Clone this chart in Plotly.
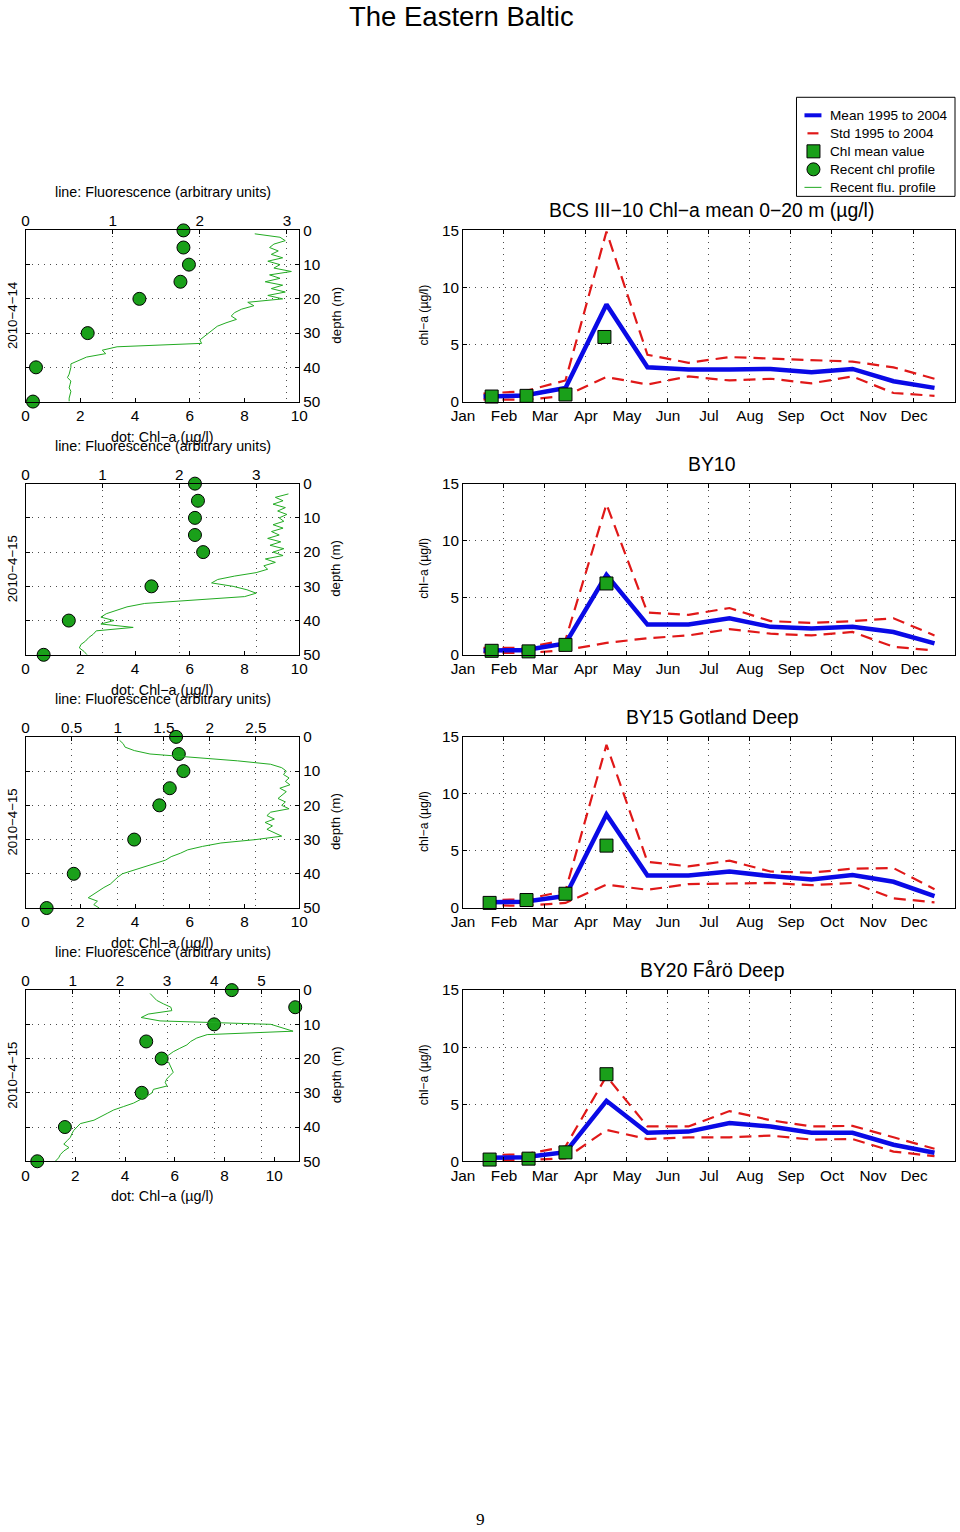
import plotly.graph_objects as go

FONT = "Liberation Sans, Arial, Helvetica, sans-serif"
W, H = 964, 1534
# measured mapping of the photographed page: shown = S * figure_px + O
SX, OX = 0.9796, 11.4
SY, OY = 0.988, 9.8
FK = 1.02  # font compensation for the same shrink

# ---------------- data: seasonal panels ----------------
months = ["Jan", "Feb", "Mar", "Apr", "May", "Jun", "Jul", "Aug", "Sep", "Oct", "Nov", "Dec"]
month_ticks = [1, 2, 3, 4, 5, 6, 7, 8, 9, 10, 11, 12]
month_mid = [1.5, 2.5, 3.5, 4.5, 5.5, 6.5, 7.5, 8.5, 9.5, 10.5, 11.5, 12.5]

station_titles = ["BCS III−10 Chl−a mean 0−20 m (µg/l)", "BY10", "BY15 Gotland Deep", "BY20 Fårö Deep"]

mean_bcs = [0.44, 0.53, 1.2, 8.5, 3.0, 2.8, 2.8, 2.86, 2.57, 2.86, 1.78, 1.2]
std_hi_bcs = [0.7, 0.9, 1.85, 14.9, 4.1, 3.4, 3.9, 3.75, 3.6, 3.5, 3.0, 2.0]
std_lo_bcs = [0.2, 0.15, 0.5, 2.15, 1.5, 2.2, 1.85, 2.0, 1.6, 2.2, 0.75, 0.5]
chl_t_bcs = [1.7, 2.55, 3.5, 4.45]
chl_v_bcs = [0.44, 0.5, 0.62, 5.66]

mean_by10 = [0.38, 0.4, 1.0, 7.0, 2.65, 2.65, 3.2, 2.45, 2.3, 2.45, 2.0, 1.0]
std_hi_by10 = [0.6, 0.6, 1.3, 13.2, 3.7, 3.5, 4.1, 2.95, 2.8, 2.95, 3.2, 1.7]
std_lo_by10 = [0.2, 0.15, 0.4, 1.05, 1.45, 1.7, 2.25, 1.85, 1.7, 2.0, 0.7, 0.38]
chl_t_by10 = [1.7, 2.6, 3.5, 4.5]
chl_v_by10 = [0.35, 0.3, 0.87, 6.25]

mean_by15 = [0.5, 0.55, 1.05, 8.2, 2.85, 2.85, 3.2, 2.8, 2.5, 2.9, 2.3, 1.05]
std_hi_by15 = [0.7, 0.75, 1.5, 14.3, 4.05, 3.65, 4.15, 3.2, 3.1, 3.45, 3.5, 1.65]
std_lo_by15 = [0.25, 0.2, 0.45, 2.05, 1.6, 2.1, 2.15, 2.2, 2.0, 2.2, 0.85, 0.5]
chl_t_by15 = [1.65, 2.55, 3.5, 4.5]
chl_v_by15 = [0.45, 0.7, 1.25, 5.47]

mean_by20 = [0.3, 0.35, 0.8, 5.3, 2.5, 2.6, 3.35, 3.05, 2.5, 2.5, 1.45, 0.75]
std_hi_by20 = [0.55, 0.6, 1.3, 7.45, 3.05, 3.05, 4.4, 3.6, 3.05, 3.1, 2.1, 1.1]
std_lo_by20 = [0.1, 0.1, 0.25, 2.75, 1.95, 2.1, 2.1, 2.25, 1.9, 1.95, 0.85, 0.45]
chl_t_by20 = [1.65, 2.6, 3.5, 4.5]
chl_v_by20 = [0.15, 0.23, 0.78, 7.63]

# ---------------- data: profiles ----------------
profile_dates = ["2010−4−14", "2010−4−15", "2010−4−15", "2010−4−15"]
dot_depth = [0, 5, 10, 15, 20, 30, 40, 50]
chl_p1 = [5.77, 5.77, 5.97, 5.66, 4.16, 2.27, 0.38, 0.27]
chl_p2 = [6.19, 6.30, 6.19, 6.19, 6.49, 4.60, 1.58, 0.66]
chl_p3 = [5.50, 5.60, 5.77, 5.27, 4.89, 3.97, 1.76, 0.77]
chl_p4 = [8.29, 10.84, 7.58, 4.85, 5.47, 4.67, 1.58, 0.47]

flu_depth_a = [1, 2, 3, 4, 5, 6, 7, 8, 9, 10, 11, 12, 13, 14, 15, 16, 17, 18, 19, 20,
               21, 22, 23, 24, 25, 26, 27, 28, 29, 30, 31, 32, 33, 34, 35, 36, 37, 38, 39, 40,
               41, 42, 43, 44, 45, 46, 47, 48, 49, 50]
flu_depth_b = [3, 4, 5, 6, 7, 8, 9, 10, 11, 12, 13, 14, 15, 16, 17, 18, 19, 20,
               21, 22, 23, 24, 25, 26, 27, 28, 29, 30, 31, 32, 33, 34, 35, 36, 37, 38, 39, 40,
               41, 42, 43, 44, 45, 46, 47, 48, 49, 50]

flu_p1 = [2.63, 2.92, 2.98, 2.85, 2.80, 2.90, 2.82, 2.95, 2.78, 2.92,
          2.85, 3.05, 2.80, 2.92, 2.75, 2.95, 2.82, 2.98, 2.78, 2.95,
          2.55, 2.62, 2.48, 2.40, 2.36, 2.42, 2.30, 2.20, 2.15, 2.10,
          2.05, 2.00, 2.02, 1.05, 0.88, 0.92, 0.70, 0.60, 0.52, 0.52,
          0.51, 0.50, 0.48, 0.52, 0.51, 0.50, 0.52, 0.51, 0.50, 0.50]
flu_p2 = [3.42, 3.25, 3.35, 3.22, 3.38, 3.28, 3.40, 3.30,
          3.36, 3.22, 3.35, 3.20, 3.30, 3.15, 3.32, 3.18, 3.36, 3.22,
          3.35, 3.12, 3.25, 3.10, 3.15, 3.00, 2.72, 2.50, 2.42, 2.70,
          2.88, 3.00, 2.85, 2.20, 1.55, 1.32, 1.18, 1.05, 0.98, 1.15,
          0.98, 1.40, 0.92, 0.88, 0.82, 0.78, 0.72, 0.70, 0.76, 0.80]
flu_p3 = [1.02, 1.06, 1.08, 1.18, 1.35, 1.85, 2.30, 2.66, 2.78, 2.83,
          2.80, 2.86, 2.82, 2.87, 2.76, 2.83, 2.78, 2.74, 2.82, 2.78,
          2.86, 2.66, 2.62, 2.70, 2.60, 2.68, 2.62, 2.70, 2.78, 2.50,
          2.12, 1.92, 1.76, 1.68, 1.58, 1.52, 1.40, 1.28, 1.15, 1.05,
          1.00, 0.96, 0.92, 0.85, 0.79, 0.74, 0.68, 0.78, 0.74, 0.80]
flu_p4 = [2.64, 2.72, 2.78, 2.92, 3.08, 3.10, 2.60, 2.45, 2.85, 5.20,
          5.45, 5.67, 3.85, 3.63, 3.50, 3.42, 3.27, 3.13, 3.03, 2.92,
          3.03, 3.06, 3.10, 3.13, 3.06, 2.99, 2.96, 3.00, 2.71, 2.68,
          2.57, 2.43, 2.29, 2.08, 1.87, 1.73, 1.58, 1.45, 1.16, 1.09,
          1.02, 0.98, 0.95, 0.88, 0.81, 0.92, 0.81, 0.74, 0.70, 0.63]

flu_ticks = [[0, 1, 2, 3], [0, 1, 2, 3], [0, 0.5, 1, 1.5, 2, 2.5], [0, 1, 2, 3, 4, 5]]
flu_ranges = [[0, 3.14], [0, 3.56], [0, 2.97], [0, 5.8]]
chl_ranges = [[0, 10], [0, 10], [0, 10], [0, 11]]
chl_ticks = [[0, 2, 4, 6, 8, 10], [0, 2, 4, 6, 8, 10], [0, 2, 4, 6, 8, 10], [0, 2, 4, 6, 8, 10]]
depth_ticks = [0, 10, 20, 30, 40, 50]

legend_labels = ["Mean 1995 to 2004", "Std 1995 to 2004", "Chl mean value",
                 "Recent chl profile", "Recent flu. profile"]

seasonal = [
    (mean_bcs, std_hi_bcs, std_lo_bcs, chl_t_bcs, chl_v_bcs),
    (mean_by10, std_hi_by10, std_lo_by10, chl_t_by10, chl_v_by10),
    (mean_by15, std_hi_by15, std_lo_by15, chl_t_by15, chl_v_by15),
    (mean_by20, std_hi_by20, std_lo_by20, chl_t_by20, chl_v_by20),
]
profiles = [
    (chl_p1, flu_depth_a, flu_p1),
    (chl_p2, flu_depth_b, flu_p2),
    (chl_p3, flu_depth_a, flu_p3),
    (chl_p4, flu_depth_a, flu_p4),
]

# ---------------- style ----------------
BLUE = "#0a0ae6"
RED = "#e01818"
GREEN_FILL = "#1aa01a"
GREEN_LINE = "#22aa22"
GRID = "rgba(30,30,30,0.8)"
GRID_DASH = "1px,5px"


def px(p):
    return max(0.0, min(1.0, ((p - OX) / SX) / W))


def py(p):
    return max(0.0, min(1.0, 1 - ((p - OY) / SY) / H))


def fs(s):
    return round(s * FK, 1)


row_top = [231, 484, 737, 990]
row_bot = [402, 655, 908, 1161]
L_X = [25, 299]
R_X = [463, 957]

fig = go.Figure()
layout = dict()
annotations = []
shapes = []

tickfont = dict(family=FONT, size=fs(15), color="black")
base_axis = dict(showline=True, linecolor="black", linewidth=1, ticks="inside", ticklen=4,
                 tickcolor="black", tickfont=tickfont, zeroline=False, fixedrange=True)


def key(prefix, n):
    return prefix + ("" if n == 1 else str(n))


def ann(text, x, y, size, angle=0, family=FONT, xanchor="center"):
    annotations.append(dict(text=text, x=px(x), y=py(y), xref="paper", yref="paper",
                            xanchor=xanchor, yanchor="middle", showarrow=False,
                            textangle=angle, font=dict(family=family, size=fs(size), color="black")))


for i in range(4):
    la = 3 * i + 1
    lt = 3 * i + 2
    r = 3 * i + 3
    ydom = [py(row_bot[i]), py(row_top[i])]
    off = 253 * i

    layout[key("xaxis", la)] = dict(base_axis, domain=[px(L_X[0]), px(L_X[1])], anchor=key("y", la),
                                    range=chl_ranges[i], tickvals=chl_ticks[i], showgrid=False,
                                    mirror=True, side="bottom")
    layout[key("xaxis", lt)] = dict(base_axis, overlaying=key("x", la), anchor=key("y", la), side="top",
                                    range=flu_ranges[i], tickvals=flu_ticks[i], showgrid=True,
                                    gridcolor=GRID, griddash=GRID_DASH, gridwidth=1, showline=False)
    layout[key("yaxis", la)] = dict(base_axis, domain=ydom, anchor=key("x", la), side="right",
                                    range=[50, 0], tickvals=depth_ticks, showgrid=True,
                                    gridcolor=GRID, griddash=GRID_DASH, gridwidth=1, mirror="ticks")
    layout[key("xaxis", r)] = dict(base_axis, domain=[px(R_X[0]), px(R_X[1])], anchor=key("y", r),
                                   range=[1, 13], tickvals=month_ticks, ticktext=months, showgrid=True,
                                   gridcolor=GRID, griddash=GRID_DASH, gridwidth=1, mirror="ticks")
    layout[key("yaxis", r)] = dict(base_axis, domain=ydom, anchor=key("x", r), range=[0, 15],
                                   tickvals=[0, 5, 10, 15], showgrid=True, gridcolor=GRID,
                                   griddash=GRID_DASH, gridwidth=1, mirror="ticks")

    mean, shi, slo, ct, cv = seasonal[i]
    chl_dots, fdep, fval = profiles[i]

    fig.add_trace(go.Scatter(x=fval, y=fdep, mode="lines", line=dict(color=GREEN_LINE, width=1),
                             xaxis=key("x", lt), yaxis=key("y", la), name=legend_labels[4]))
    fig.add_trace(go.Scatter(x=chl_dots, y=dot_depth, mode="markers", cliponaxis=False,
                             marker=dict(symbol="circle", size=13, color=GREEN_FILL,
                                         line=dict(color="black", width=1)),
                             xaxis=key("x", la), yaxis=key("y", la), name=legend_labels[3]))
    fig.add_trace(go.Scatter(x=month_mid, y=shi, mode="lines", line=dict(color=RED, width=2.2, dash="12px,7px"),
                             xaxis=key("x", r), yaxis=key("y", r), name=legend_labels[1]))
    fig.add_trace(go.Scatter(x=month_mid, y=slo, mode="lines", line=dict(color=RED, width=2.2, dash="12px,7px"),
                             xaxis=key("x", r), yaxis=key("y", r), name=legend_labels[1]))
    fig.add_trace(go.Scatter(x=month_mid, y=mean, mode="lines", line=dict(color=BLUE, width=4.5),
                             xaxis=key("x", r), yaxis=key("y", r), name=legend_labels[0]))
    fig.add_trace(go.Scatter(x=ct, y=cv, mode="markers", cliponaxis=False,
                             marker=dict(symbol="square", size=13, color=GREEN_FILL,
                                         line=dict(color="black", width=1)),
                             xaxis=key("x", r), yaxis=key("y", r), name=legend_labels[2]))

    ann(station_titles[i], 712, 211 + off, 19)
    ann("chl−a (µg/l)", 424, 316 + off, 12, -90)
    ann("line: Fluorescence (arbitrary units)", 163, 193 + off, 14)
    ann("dot: Chl−a (µg/l)", 162, 437 + off, 14)
    ann(profile_dates[i], 12, 316 + off, 13, -90)
    ann("depth (m)", 336, 316 + off, 13, -90)

ann("The Eastern Baltic", 462, 17, 27)
ann("9", 481, 1519, 17, family="Liberation Serif, DejaVu Serif, serif")

# ---------------- legend box (drawn as a key panel, like the original) ----------------
LEG_BOX = (797, 98, 957, 197)
leg_rows = [116, 134, 152, 170, 188]
shapes.append(dict(type="rect", xref="paper", yref="paper", x0=px(LEG_BOX[0]), x1=px(LEG_BOX[2]),
                   y0=py(LEG_BOX[3]), y1=py(LEG_BOX[1]), line=dict(color="black", width=1),
                   fillcolor="white", layer="above"))
shapes.append(dict(type="line", xref="paper", yref="paper", x0=px(805), x1=px(822),
                   y0=py(leg_rows[0]), y1=py(leg_rows[0]), line=dict(color=BLUE, width=4), layer="above"))
shapes.append(dict(type="line", xref="paper", yref="paper", x0=px(808), x1=px(819),
                   y0=py(leg_rows[1]), y1=py(leg_rows[1]), line=dict(color=RED, width=2.2), layer="above"))
shapes.append(dict(type="rect", xref="paper", yref="paper", x0=px(807.5), x1=px(820.5),
                   y0=py(leg_rows[2] + 6.5), y1=py(leg_rows[2] - 6.5), fillcolor=GREEN_FILL,
                   line=dict(color="black", width=1), layer="above"))
shapes.append(dict(type="circle", xref="paper", yref="paper", x0=px(807.5), x1=px(820.5),
                   y0=py(leg_rows[3] + 6.5), y1=py(leg_rows[3] - 6.5), fillcolor=GREEN_FILL,
                   line=dict(color="black", width=1), layer="above"))
shapes.append(dict(type="line", xref="paper", yref="paper", x0=px(805), x1=px(822),
                   y0=py(leg_rows[4]), y1=py(leg_rows[4]), line=dict(color=GREEN_LINE, width=1), layer="above"))
for lab, yy in zip(legend_labels, leg_rows):
    ann(lab, 829, yy, 13.3, xanchor="left")

fig.update_layout(
    width=W, height=H, autosize=False,
    margin=dict(l=0, r=0, t=0, b=0),
    paper_bgcolor="white", plot_bgcolor="white",
    font=dict(family=FONT, color="black"),
    annotations=annotations,
    shapes=shapes,
    showlegend=False,
    **layout,
)

fig.write_html("out.html", config={"responsive": False, "displayModeBar": False})
